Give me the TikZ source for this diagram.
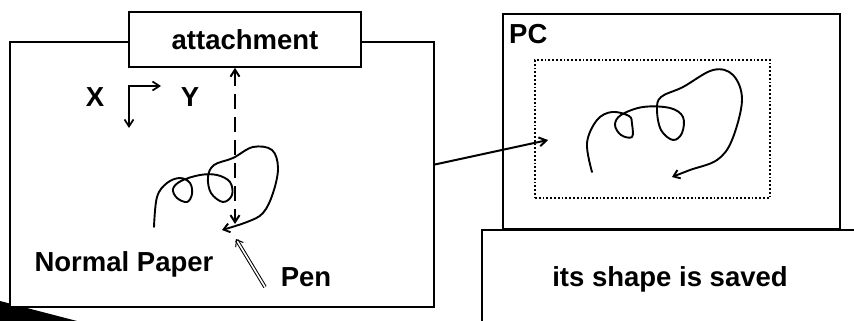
\documentclass[tikz,border=0pt]{standalone}
\usepackage{fontspec}
\setmainfont{Liberation Sans}
\usetikzlibrary{positioning, arrows.meta, calc}

\begin{document}
\begin{tikzpicture}[x=1pt, y=-1pt,
  every node/.style={font=\bfseries\fontsize{27.5}{32}\selectfont},
  box/.style={draw, line width=1.7pt, fill=white, inner sep=0pt,
    minimum width=#1},
  arr/.style={-{Straight Barb[length=7pt, width=9pt]}, line width=1.7pt},
  ink/.style={line width=1.9pt, line cap=round, line join=round}
]
  \useasboundingbox (0,0) rectangle (854,321);

  % Shadow at the lower left corner
  \fill (0,301) -- (77,321) -- (0,321) -- cycle;

  % Normal paper and attachment
  \node[box=424pt, minimum height=265pt] (paper) at (222,174.5) {};
  \node[box=232pt, minimum height=55pt] (attach) at (245,39.5) {attachment};
  \node (np) at (124,264) {Normal Paper};

  % Axes
  \coordinate (ax) at (129,86);
  \node (xl) at (95,97) {X};
  \node (yl) at (190,97) {Y};
  \draw[arr, {Straight Barb[length=7pt, width=9pt]}-{Straight Barb[length=7pt, width=9pt]}]
    (161,86) -- (ax) -- (129,128);

  % Distance attachment <-> pen tip
  \coordinate (tipdn) at (235,224);
  \draw[arr, line width=2pt,
    {Straight Barb[length=7pt, width=9pt]}-{Straight Barb[length=7pt, width=9pt]},
    dash pattern=on 15pt off 8pt] ([xshift=-10pt]attach.south) -- (tipdn);

  % Written line on the paper
  \draw[ink, -{Straight Barb[length=6pt, width=9pt]}] plot[smooth, tension=0.6] coordinates {
    (154,227) (157,197) (167,183) (180,178) (190,183) (192,194) (187,202)
    (177,198) (173,189) (181,181) (200,175) (217,175) (230,182) (232,195)
    (223,202) (211,193) (208,177) (214,165) (233,158) (253,147) (272,150)
    (278,168) (273,193) (263,213) (247,222) (222,230)};

  % Pen
  \node (pen) at (306,277) {Pen};
  \coordinate (pentail) at (265,287);
  \coordinate (pentip) at (236,239);
  \draw[double, double distance=1.6pt, line width=1pt,
    -{Straight Barb[length=6pt, width=9pt]}] (pentail) -- (pentip);

  % PC
  \node[box=337pt, minimum height=215pt] (pc) at (671.5,121.5) {};
  \node[anchor=north west, inner sep=0pt] (pcl) at (509,24) {PC};
  \node[draw, line width=1.8pt, dash pattern=on 1.8pt off 2pt, inner sep=0pt,
    minimum width=235pt, minimum height=138pt] (screen) at (652.5,129) {};

  % Line as shown on the PC
  \draw[ink, -{Straight Barb[length=6pt, width=9pt]}] plot[smooth, tension=0.6] coordinates {
    (592,172) (587,143) (597,120) (612,112) (629,116) (632,124) (632,137)
    (621,135) (615,125) (621,115) (643,107) (670,108) (683,117) (682,133)
    (673,140) (661,130) (657,110) (661,97) (683,87) (713,70) (733,75)
    (742,100) (732,140) (717,160) (690,170) (672,177)};

  % Arrow paper -> PC
  \coordinate (pcin) at (548,140);
  \draw[arr, line width=2pt] ([yshift=10pt]paper.east) -- (pcin);

  % Saved message
  \draw[line width=1.7pt, fill=white] (860,230) -- (482,230) -- (482,330) -- (860,330);
  \node (saved) at (670,279) {its shape is saved};
\end{tikzpicture}
\end{document}
